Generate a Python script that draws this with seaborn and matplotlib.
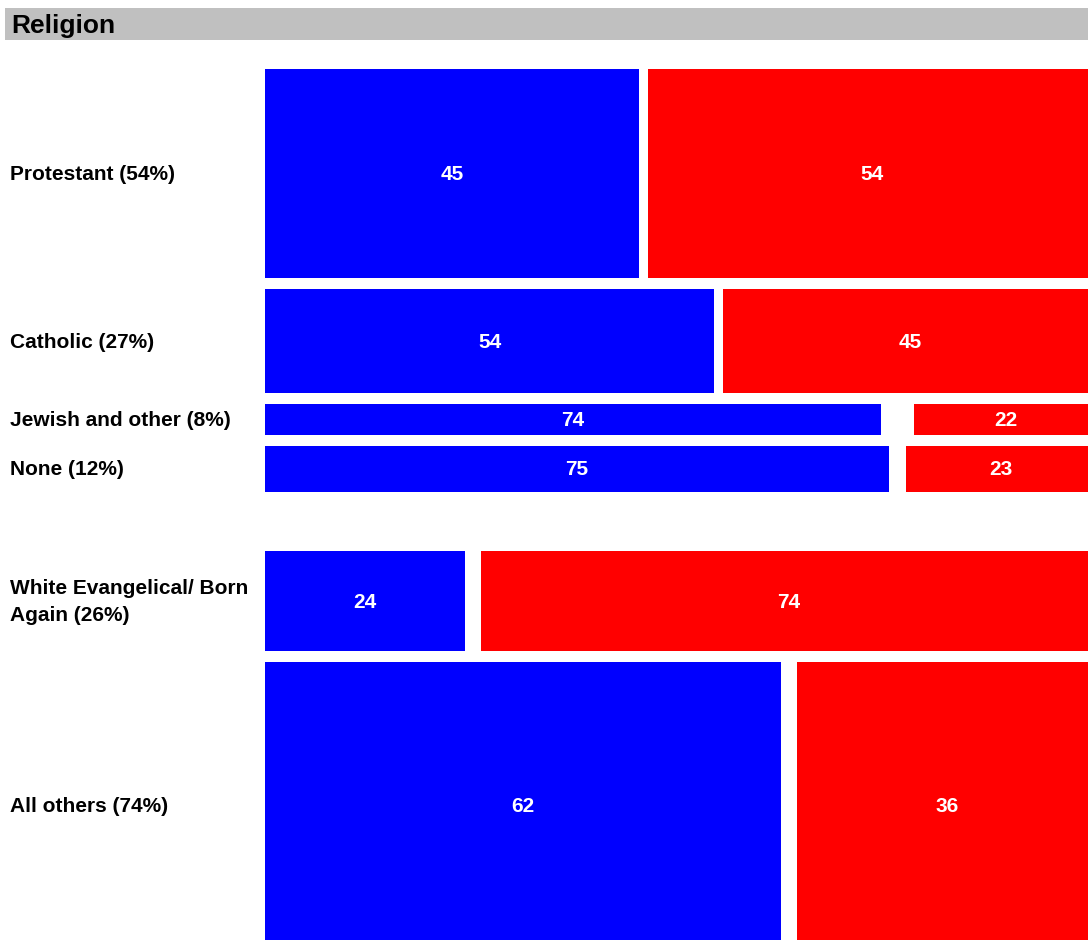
import matplotlib
matplotlib.use("Agg")
import matplotlib.pyplot as plt
import seaborn as sns
import pandas as pd
from matplotlib.patches import Rectangle

# Religion breakdown: share of electorate, Democratic and Republican vote
groups = ["Protestant (54%)", "Catholic (27%)", "Jewish and other (8%)", "None (12%)",
          "White Evangelical/ Born\nAgain (26%)", "All others (74%)"]
shares = [54, 27, 8, 12, 26, 74]
dem = [45, 54, 74, 75, 24, 62]
rep = [54, 45, 22, 23, 74, 36]
block = [0, 0, 0, 0, 1, 1]

BLUE = "#0000ff"
RED = "#ff0000"

sns.set_theme(style="white")
plt.rcParams["font.family"] = ["Liberation Sans", "DejaVu Sans"]

W, H = 1088, 940
fig = plt.figure(figsize=(W / 100, H / 100), dpi=100)

# Title band
band = fig.add_axes([0, 0, 1, 1], zorder=0)
band.set_xlim(0, W)
band.set_ylim(H, 0)
band.axis("off")
band.add_patch(Rectangle((5, 8), W - 5, 32, color="#c0c0c0", lw=0))
band.text(11, 25.5, "Religion", fontsize=19, fontweight="bold", color="black",
          va="center", ha="left")

# Bar area: 0..100 % spans from x=265 to x=1097 px (right edge runs past the canvas)
x0, x1 = 265, 1097
ax = fig.add_axes([x0 / W, 0, (x1 - x0) / W, 1], zorder=1)
ax.set_xlim(0, 100)
ax.set_ylim(H, 0)
ax.axis("off")

# Vertical layout: row height proportional to share
px_per_pct = 3.875
row_gap = 10.6
block_gap = 58.5
tops, heights = [], []
y = 69
for i, s in enumerate(shares):
    if i > 0:
        y += block_gap if block[i] != block[i - 1] else row_gap
    h = s * px_per_pct
    tops.append(y)
    heights.append(h)
    y += h
centers = [t + h / 2 for t, h in zip(tops, heights)]

df = pd.DataFrame({"group": groups, "dem": dem, "rep": rep})
sns.barplot(data=df, x="dem", y="group", orient="h", color=BLUE, saturation=1,
            ax=ax, edgecolor="none", linewidth=0)
blue_patches = list(ax.patches)
sns.barplot(data=df, x="rep", y="group", orient="h", color=RED, saturation=1,
            ax=ax, edgecolor="none", linewidth=0)
red_patches = list(ax.patches)[len(blue_patches):]

# Reposition bars: variable heights; red bars anchored at the right edge
for i, (bp, rp) in enumerate(zip(blue_patches, red_patches)):
    bp.set_y(tops[i]); bp.set_height(heights[i])
    bp.set_x(0); bp.set_width(dem[i])
    rp.set_y(tops[i]); rp.set_height(heights[i])
    rp.set_x(100 - rep[i]); rp.set_width(rep[i])
    ax.text(dem[i] / 2, centers[i] + 1, f"{dem[i]}", color="white", fontsize=15,
            fontweight="bold", ha="center", va="center")
    ax.text(100 - rep[i] / 2, centers[i] + 1, f"{rep[i]}", color="white", fontsize=15,
            fontweight="bold", ha="center", va="center")

ax.set_xlim(0, 100)
ax.set_ylim(H, 0)
ax.set_xlabel("")
ax.set_ylabel("")

for i, g in enumerate(groups):
    band.text(10, centers[i] + 1, g, fontsize=15, fontweight="bold", color="black",
              ha="left", va="center", linespacing=1.55)

fig.savefig("out.png", dpi=100)
